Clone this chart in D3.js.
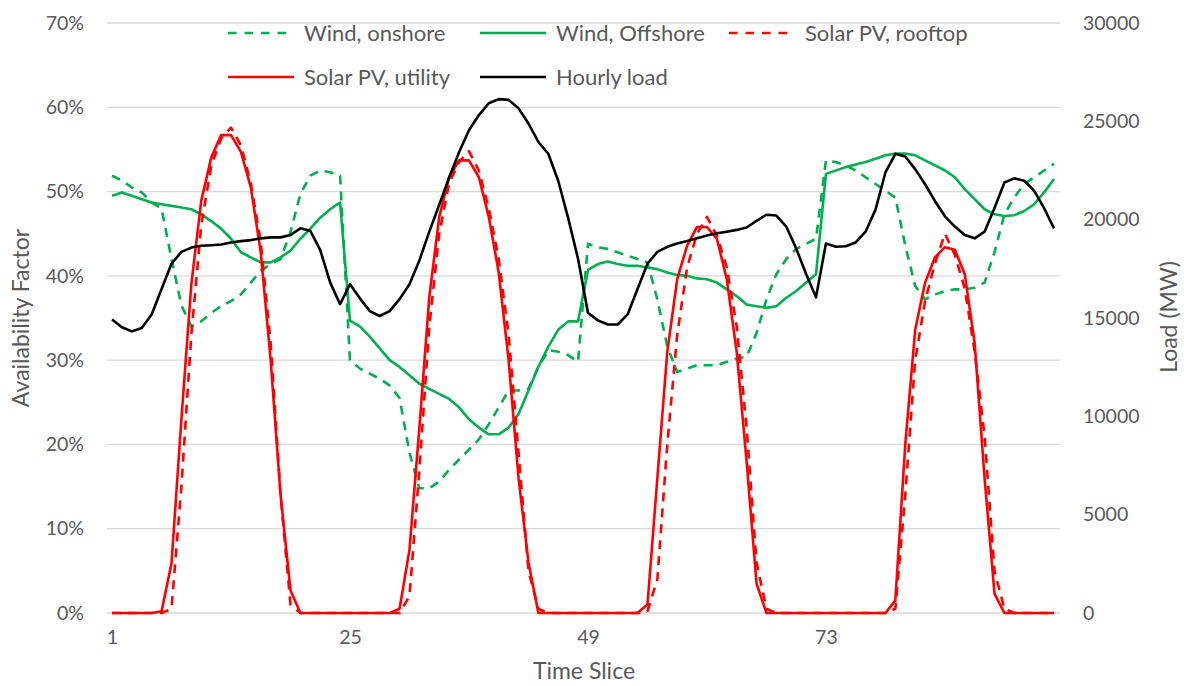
<!DOCTYPE html>
<html><head><meta charset="utf-8">
<script src="https://cdn.jsdelivr.net/npm/d3@7/dist/d3.min.js"></script>
<style>body{margin:0;background:#fff}svg{display:block}</style>
</head><body>
<svg id="c" width="1184" height="686"></svg>
<script>
const slices = d3.range(1, 97);
const xTickLabels = [1, 25, 49, 73];
const leftTicks = [0, 10, 20, 30, 40, 50, 60, 70];
const rightTicks = [0, 5000, 10000, 15000, 20000, 25000, 30000];

const windOnshore = [51.9,51.3,50.5,49.9,48.7,48.0,42.0,36.5,34.0,34.6,35.6,36.4,37.0,37.8,39.2,40.6,41.4,42.0,45.2,49.7,51.9,52.5,52.3,51.9,
30.0,29.0,28.4,27.8,27.0,25.5,19.0,14.8,14.8,15.6,17.0,18.2,19.4,20.6,22.4,24.4,26.4,26.4,26.6,29.2,31.2,31.0,30.6,29.8,
43.8,43.4,43.2,42.8,42.4,42.0,41.6,37.2,31.6,28.6,29.0,29.4,29.4,29.4,29.8,30.2,30.4,33.2,37.2,40.2,42.0,43.2,43.8,44.4,
53.7,53.5,53.1,52.5,51.7,50.9,50.1,49.3,43.6,38.8,37.2,37.8,38.2,38.4,38.4,38.6,39.2,42.8,47.3,49.3,50.9,51.7,52.5,53.3];

const windOffshore = [49.5,49.9,49.5,49.1,48.7,48.5,48.3,48.1,47.9,47.3,46.5,45.6,44.4,42.8,42.2,41.6,41.6,42.2,43.0,44.4,45.6,46.9,47.9,48.7,
34.7,34.0,32.8,31.4,30.0,29.2,28.2,27.2,26.6,26.0,25.4,24.4,23.0,22.0,21.2,21.2,22.0,23.6,26.4,29.2,31.6,33.6,34.6,34.6,
40.7,41.4,41.7,41.4,41.2,41.2,41.0,40.8,40.4,40.1,40.0,39.7,39.6,39.2,38.4,37.6,36.6,36.4,36.2,36.4,37.4,38.2,39.2,40.2,
52.1,52.5,52.9,53.2,53.5,53.9,54.3,54.5,54.5,54.3,53.7,53.1,52.5,51.7,50.3,49.1,47.9,47.3,47.1,47.2,47.7,48.5,49.9,51.5];

const solarRooftop = [0,0,0,0,0,0,0.5,15,33,46,53,56.3,57.6,55.5,51,44,32,14,1,0,0,0,0,0,
0,0,0,0,0,0,2,17,34,45,51,53.5,54.8,52.5,48,42,33,19,5,0.5,0,0,0,0,
0,0,0,0,0,0,0.2,4,20,33,41,45,47,44.8,41,34,22,6,0.5,0,0,0,0,0,
0,0,0,0,0,0,0,0.5,14,30,37,41.5,45,42.5,38.5,31,21,5,0.5,0,0,0,0,0];

const solarUtility = [0,0,0,0,0,0.2,5.9,23,39,48.9,54,56.7,56.7,54.7,50.5,42.8,30,14,2.7,0,0,0,0,0,
0,0,0,0,0,0.5,7.5,22,37.5,47,51.7,53.7,53.7,51.7,47,40.4,30,16,6,0,0,0,0,0,
0,0,0,0,0,0,1,16,31,39.6,43.6,45.8,45.8,44.4,39.6,31,18,3.5,0,0,0,0,0,0,
0,0,0,0,0,0,0,1.5,20,33.6,39.2,42.2,43.4,43.1,40.2,32,16,2.3,0,0,0,0,0,0];

const hourlyLoad = [14920,14530,14320,14490,15180,16470,17760,18360,18580,18670,18700,18740,18840,18910,18960,19050,19100,19100,19220,19560,19430,18450,16810,15700,
16720,16000,15350,15100,15350,15960,16720,17930,19390,20760,22140,23430,24550,25320,25920,26130,26090,25660,24890,23950,23350,21980,20090,18010,
15270,14880,14670,14670,15180,16470,17760,18360,18620,18790,18910,19050,19190,19310,19390,19480,19600,19940,20250,20210,19650,18530,17240,16050,
18790,18620,18650,18840,19390,20510,22400,23350,23210,22570,21800,20940,20170,19650,19220,19050,19390,20590,21890,22100,21980,21460,20590,19560];

const seriesNames = ["Wind, onshore","Wind, Offshore","Solar PV, rooftop","Solar PV, utility","Hourly load"];

const GREEN = "#00B050", RED = "#FF0000", TXT = "#595959";
const FONT = "Lato, 'Open Sans', sans-serif";
const svg = d3.select("#c");

const x = d3.scaleLinear().domain([1, 96]).range([112, 1054]);
const yL = d3.scaleLinear().domain([0, 70]).range([613, 23]);
const yR = d3.scaleLinear().domain([0, 30000]).range([613, 23]);

// gridlines
svg.append("g").selectAll("line").data(leftTicks).join("line")
  .attr("x1", 107).attr("x2", 1060)
  .attr("y1", d => yL(d)).attr("y2", d => yL(d))
  .attr("stroke", "#D9D9D9").attr("stroke-width", 1.3);

// left axis
const axL = d3.axisLeft(yL).tickValues(leftTicks).tickFormat(d => d + "%").tickSize(0).tickPadding(0);
const gL = svg.append("g").attr("transform", "translate(84,0)").call(axL);
gL.select(".domain").remove();
gL.selectAll("text").attr("font-family", FONT).attr("font-size", 19.5).attr("fill", TXT);

// right axis
const axR = d3.axisRight(yR).tickValues(rightTicks).tickFormat(d3.format("d")).tickSize(0).tickPadding(0);
const gR = svg.append("g").attr("transform", "translate(1083,0)").call(axR);
gR.select(".domain").remove();
gR.selectAll("text").attr("font-family", FONT).attr("font-size", 19.5).attr("fill", TXT);

// bottom axis
const axB = d3.axisBottom(x).tickValues(xTickLabels).tickFormat(d3.format("d")).tickSize(0).tickPadding(0);
const gB = svg.append("g").attr("transform", "translate(0,630)").call(axB);
gB.select(".domain").remove();
gB.selectAll("text").attr("font-family", FONT).attr("font-size", 19.5).attr("fill", TXT);

// axis titles
svg.append("text").attr("transform", "translate(29,318) rotate(-90)").attr("text-anchor", "middle")
  .attr("font-family", FONT).attr("font-size", 23).attr("fill", TXT).text("Availability Factor");
svg.append("text").attr("transform", "translate(1177,317) rotate(-90)").attr("text-anchor", "middle")
  .attr("font-family", FONT).attr("font-size", 23).attr("fill", TXT).text("Load (MW)");
svg.append("text").attr("x", 584).attr("y", 679).attr("text-anchor", "middle")
  .attr("font-family", FONT).attr("font-size", 23).attr("fill", TXT).text("Time Slice");

const lineL = d3.line().x((d, i) => x(slices[i])).y(d => yL(d));
const lineR = d3.line().x((d, i) => x(slices[i])).y(d => yR(d));

const styles = [
  {data: windOnshore, gen: lineL, color: GREEN, dash: "9,7"},
  {data: windOffshore, gen: lineL, color: GREEN, dash: null},
  {data: solarRooftop, gen: lineL, color: RED, dash: "9,7"},
  {data: solarUtility, gen: lineL, color: RED, dash: null},
  {data: hourlyLoad, gen: lineR, color: "#000", dash: null}
];

styles.forEach(s => {
  svg.append("path").attr("d", s.gen(s.data)).attr("fill", "none")
    .attr("stroke", s.color).attr("stroke-width", 2.6)
    .attr("stroke-linejoin", "round")
    .attr("stroke-dasharray", s.dash);
});

// legend
const legPos = [[228, 33], [480, 33], [729, 33], [228, 77], [480, 77]];
const leg = svg.append("g").attr("class", "legend");
styles.forEach((s, i) => {
  const [lx, ly] = legPos[i];
  const g = leg.append("g").attr("transform", `translate(${lx},${ly})`);
  g.append("line").attr("x1", 0).attr("x2", 66).attr("y1", 0).attr("y2", 0)
    .attr("stroke", s.color).attr("stroke-width", 2.6).attr("stroke-dasharray", s.dash ? "8.5,8" : null);
  g.append("text").attr("x", 76).attr("y", 0).attr("dy", "0.35em")
    .attr("font-family", FONT).attr("font-size", 22).attr("fill", TXT).text(seriesNames[i]);
});
</script>
</body></html>
